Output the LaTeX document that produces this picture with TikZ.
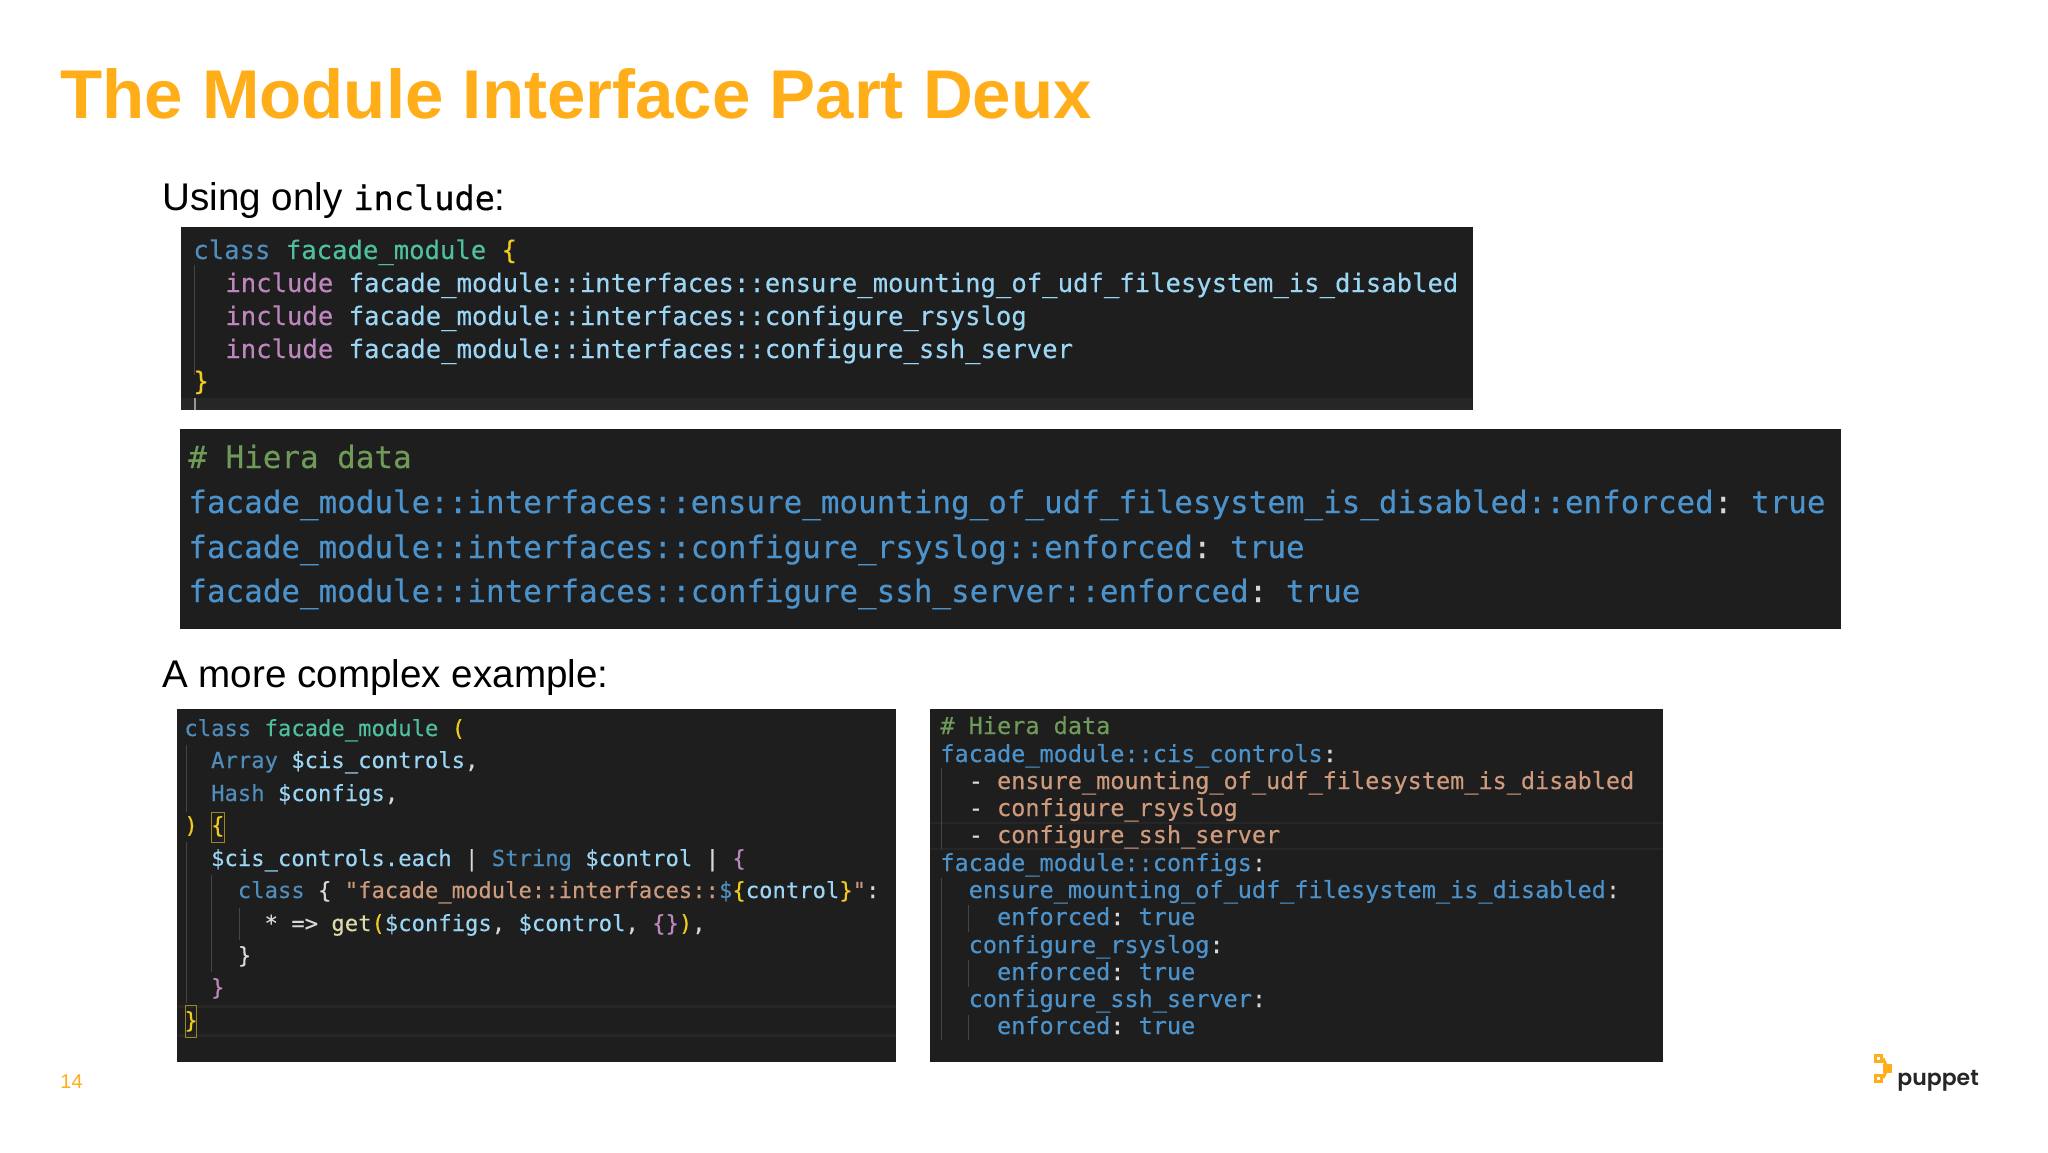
\documentclass[tikz,border=0pt]{standalone}
\usepackage{xcolor}
\usepackage{fontspec}
\setmainfont{Liberation Sans}
\setmonofont[FakeBold=0.3]{DejaVu Sans Mono}
\newfontfamily\logofont[BoldFont=Poppins SemiBold]{Poppins}
\definecolor{PuppetAmber}{HTML}{FFAE1A}
\definecolor{PanelDark}{HTML}{1E1E1F}
\definecolor{PanelBar}{HTML}{262627}
\definecolor{GuideGray}{HTML}{454546}
\definecolor{CodeWhite}{HTML}{D8D8D8}
\definecolor{KeyBlue}{HTML}{4F8DBB}
\definecolor{TealName}{HTML}{4EC0A0}
\definecolor{BraceYellow}{HTML}{EFCB20}
\definecolor{IncPink}{HTML}{BE86BC}
\definecolor{VarBlue}{HTML}{9CD6F5}
\definecolor{StrOrange}{HTML}{CE9A7C}
\definecolor{ComGreen}{HTML}{6F9A58}
\definecolor{FuncCream}{HTML}{DCDCAA}
\definecolor{YamlBlue}{HTML}{4C93CC}
\newcommand{\codekw}[1]{\textcolor{KeyBlue}{#1}}
\newcommand{\codename}[1]{\textcolor{TealName}{#1}}
\newcommand{\codebrace}[1]{\textcolor{BraceYellow}{#1}}
\newcommand{\codeinc}[1]{\textcolor{IncPink}{#1}}
\newcommand{\codevar}[1]{\textcolor{VarBlue}{#1}}
\newcommand{\codestr}[1]{\textcolor{StrOrange}{#1}}
\newcommand{\codecom}[1]{\textcolor{ComGreen}{#1}}
\newcommand{\codefn}[1]{\textcolor{FuncCream}{#1}}
\tikzset{
  panel/.style={fill=PanelDark, anchor=north west, inner sep=0pt, outer sep=0pt},
  heading/.style={anchor=base west, inner sep=0pt, font=\fontsize{19.3}{22}\selectfont},
  codeA/.style={anchor=base west, inner sep=0pt, text=CodeWhite, font=\ttfamily\fontsize{12.8}{15}\selectfont},
  codeB/.style={anchor=base west, inner sep=0pt, text=YamlBlue, font=\ttfamily\fontsize{15.45}{18}\selectfont},
  codeC/.style={anchor=base west, inner sep=0pt, text=CodeWhite, font=\ttfamily\fontsize{11.1}{13}\selectfont},
  codeD/.style={anchor=base west, inner sep=0pt, text=YamlBlue, font=\ttfamily\fontsize{11.76}{14}\selectfont},
  guide/.style={GuideGray, line width=0.5pt},
  logosq/.style={draw=PuppetAmber, line width=1.5pt, fill=white}
}
\begin{document}
\begin{tikzpicture}[x=0.5pt, y=-0.5pt]
  \useasboundingbox[fill=white] (0,0) rectangle (2048,1152);
  % Title and headings
  \node[anchor=base west, inner sep=0pt, text=PuppetAmber, font=\bfseries\fontsize{34.5}{38}\selectfont] (title) at (60,118) {The Module Interface Part Deux};
  \node[heading] (usingonly) at (162,210) {Using only {\ttfamily\fontsize{16.8}{18}\selectfont include}:};
  \node[heading] (morecomplex) at (162,687) {A more complex example:};
  \node[anchor=base west, inner sep=0pt, text=PuppetAmber, font=\fontsize{10}{12}\selectfont] (pagenum) at (60,1088) {14};

  % Panels
  \node[panel, minimum width=646pt, minimum height=91.5pt] (panelinclude) at (181,227) {};
  \node[panel, minimum width=830.5pt, minimum height=100pt] (panelhiera) at (180,429) {};
  \node[panel, minimum width=359.5pt, minimum height=176.5pt] (panelclass) at (177,709) {};
  \node[panel, minimum width=366.5pt, minimum height=176.5pt] (panelyaml) at (930,709) {};

  % Panel details
  \fill[PanelBar] (181,398) rectangle (1472,410);
  \draw[CodeWhite!70!black, line width=0.6pt] (195,398) -- (195,410);
  \draw[guide] (194,265) -- (194,375);
  \fill[PanelBar] (177,1005) rectangle (896,1008);
  \fill[PanelBar] (177,1034) rectangle (896,1037);
  \draw[guide] (186,745) -- (186,812);
  \draw[guide] (186,842) -- (186,1003);
  \draw[guide] (211,875) -- (211,972);
  \draw[guide] (239,908) -- (239,940);
  \draw[BraceYellow!60!PanelDark, line width=0.5pt] (211,812) rectangle (224,842);
  \draw[BraceYellow!60!PanelDark, line width=0.5pt] (185,1005) rectangle (196,1037);
  \fill[PanelBar] (930,822) rectangle (1663,824);
  \fill[PanelBar] (930,848) rectangle (1663,850);
  \draw[guide] (941,768) -- (941,849);
  \draw[guide] (941,878) -- (941,1040);
  \draw[guide] (968,905) -- (968,932);
  \draw[guide] (968,960) -- (968,987);
  \draw[guide] (968,1015) -- (968,1040);

  % Code with include only
  \node[codeA] (incl1) at (193,259) {\codekw{class} \codename{facade\_module} \codebrace{\{}};
  \foreach \yline/\ctl/\nm in {292/ensure\_mounting\_of\_udf\_filesystem\_is\_disabled/incl2, 325/configure\_rsyslog/incl3, 358/configure\_ssh\_server/incl4}
    \node[codeA] (\nm) at (225,\yline) {\codeinc{include} \codevar{facade\_module::interfaces::\ctl}};
  \node[codeA] (incl5) at (193,390) {\codebrace{\}}};

  % Hiera data for include
  \node[codeB] (hiera1) at (188,468) {\codecom{\# Hiera data}};
  \node[codeB] (hiera2) at (188,513) {facade\_module::interfaces::ensure\_mounting\_of\_udf\_filesystem\_is\_disabled::enforced\textcolor{CodeWhite}{:} true};
  \node[codeB] (hiera3) at (188,558) {facade\_module::interfaces::configure\_rsyslog::enforced\textcolor{CodeWhite}{:} true};
  \node[codeB] (hiera4) at (188,602) {facade\_module::interfaces::configure\_ssh\_server::enforced\textcolor{CodeWhite}{:} true};

  % Complex class
  \node[codeC] (cplx1) at (184,736) {\codekw{class} \codename{facade\_module} \codebrace{(}};
  \node[codeC] (cplx2) at (184,768) {\ \ \codekw{Array} \codevar{\$cis\_controls},};
  \node[codeC] (cplx3) at (184,801) {\ \ \codekw{Hash} \codevar{\$configs},};
  \node[codeC] (cplx4) at (184,833) {\codebrace{)} \codebrace{\{}};
  \node[codeC] (cplx5) at (184,866) {\ \ \codevar{\$cis\_controls.each} | \codekw{String} \codevar{\$control} | \codeinc{\{}};
  \node[codeC] (cplx6) at (184,898) {\ \ \ \ \codekw{class} \{ \codestr{"facade\_module::interfaces::}\codekw{\$}\codebrace{\{}\codevar{control}\codebrace{\}}\codestr{"}:};
  \node[codeC] (cplx7) at (184,931) {\ \ \ \ \ \ * => \codefn{get}\codebrace{(}\codevar{\$configs}, \codevar{\$control}, \codeinc{\{\}}\codebrace{)},};
  \node[codeC] (cplx8) at (184,963) {\ \ \ \ \}};
  \node[codeC] (cplx9) at (184,995) {\ \ \codeinc{\}}};
  \node[codeC] (cplx10) at (184,1028) {\codebrace{\}}};

  % Complex Hiera data
  \node[codeD] (yaml1) at (940,734) {\codecom{\# Hiera data}};
  \node[codeD] (yaml2) at (940,762) {facade\_module::cis\_controls\textcolor{CodeWhite}{:}};
  \node[codeD] (yaml3) at (940,789) {\ \ \textcolor{CodeWhite}{-} \codestr{ensure\_mounting\_of\_udf\_filesystem\_is\_disabled}};
  \node[codeD] (yaml4) at (940,816) {\ \ \textcolor{CodeWhite}{-} \codestr{configure\_rsyslog}};
  \node[codeD] (yaml5) at (940,843) {\ \ \textcolor{CodeWhite}{-} \codestr{configure\_ssh\_server}};
  \node[codeD] (yaml6) at (940,871) {facade\_module::configs\textcolor{CodeWhite}{:}};
  \node[codeD] (yaml7) at (940,898) {\ \ ensure\_mounting\_of\_udf\_filesystem\_is\_disabled\textcolor{CodeWhite}{:}};
  \node[codeD] (yaml8) at (940,925) {\ \ \ \ enforced\textcolor{CodeWhite}{:} true};
  \node[codeD] (yaml9) at (940,953) {\ \ configure\_rsyslog\textcolor{CodeWhite}{:}};
  \node[codeD] (yaml10) at (940,980) {\ \ \ \ enforced\textcolor{CodeWhite}{:} true};
  \node[codeD] (yaml11) at (940,1007) {\ \ configure\_ssh\_server\textcolor{CodeWhite}{:}};
  \node[codeD] (yaml12) at (940,1034) {\ \ \ \ enforced\textcolor{CodeWhite}{:} true};

  % Logo
  \coordinate (logohub) at (1887.5,1068.5);
  \draw[PuppetAmber, line width=1.5pt] (1883,1058.5) -- (logohub) -- (1883,1078);
  \fill[PuppetAmber] (1883,1064) rectangle (1892,1073);
  \node[logosq, minimum size=3pt, inner sep=0pt] (logotop) at (1878.5,1058.5) {};
  \node[logosq, minimum size=3pt, inner sep=0pt] (logobot) at (1878.5,1078) {};
  \node[anchor=base west, inner sep=0pt, text=black!85, font=\logofont\bfseries\fontsize{11}{14}\selectfont] (logotext) at (1897,1085) {puppet};
\end{tikzpicture}
\end{document}
